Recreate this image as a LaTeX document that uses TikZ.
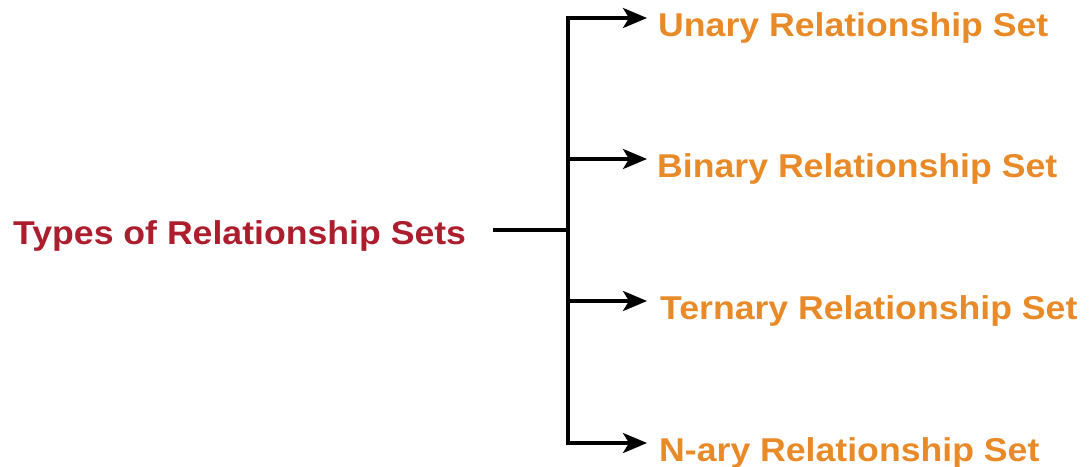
\documentclass[tikz,border=0pt]{standalone}
\usepackage{fontspec}
\setmainfont{Liberation Sans}
\usetikzlibrary{arrows.meta}
\definecolor{rootred}{RGB}{172,30,45}
\definecolor{leaforange}{RGB}{232,138,40}
\tikzset{
  roottext/.style={font=\fontsize{33}{36}\selectfont\bfseries, text=rootred, inner sep=0pt, anchor=base west, xscale=1.08, transform shape},
  leaftext/.style={font=\fontsize{33}{36}\selectfont\bfseries, text=leaforange, inner sep=0pt, anchor=base west, xscale=1.08, transform shape},
  conn/.style={line width=3.5pt, black},
  arr/.style={conn, -{Stealth[length=24pt,width=20pt,inset=6pt]}}
}
\begin{document}
\begin{tikzpicture}[x=1pt,y=-1pt]
\useasboundingbox (0,0) rectangle (1089,466);
\node[roottext] (root) at (13,244) {Types of Relationship Sets};
\node[leaftext] (u) at (658,36) {Unary Relationship Set};
\node[leaftext] (b) at (657,177) {Binary Relationship Set};
\node[leaftext] (t) at (660,319) {Ternary Relationship Set};
\node[leaftext] (n) at (659,461) {N-ary Relationship Set};
\coordinate (rs) at (493,230);
\coordinate (j) at (568,230);
\coordinate (s1) at (568,18);
\coordinate (s2) at (568,159);
\coordinate (s3) at (568,301);
\coordinate (s4) at (568,443);
\coordinate (e1) at (647,18);
\coordinate (e2) at (647,159);
\coordinate (e3) at (647,301);
\coordinate (e4) at (647,443);
\draw[conn] (rs) -- (j);
\draw[arr, line join=miter] (j) -- (s1) -- (e1);
\draw[arr, line join=miter] (j) -- (s4) -- (e4);
\draw[arr] (s2) -- (e2);
\draw[arr] (s3) -- (e3);
\end{tikzpicture}
\end{document}
